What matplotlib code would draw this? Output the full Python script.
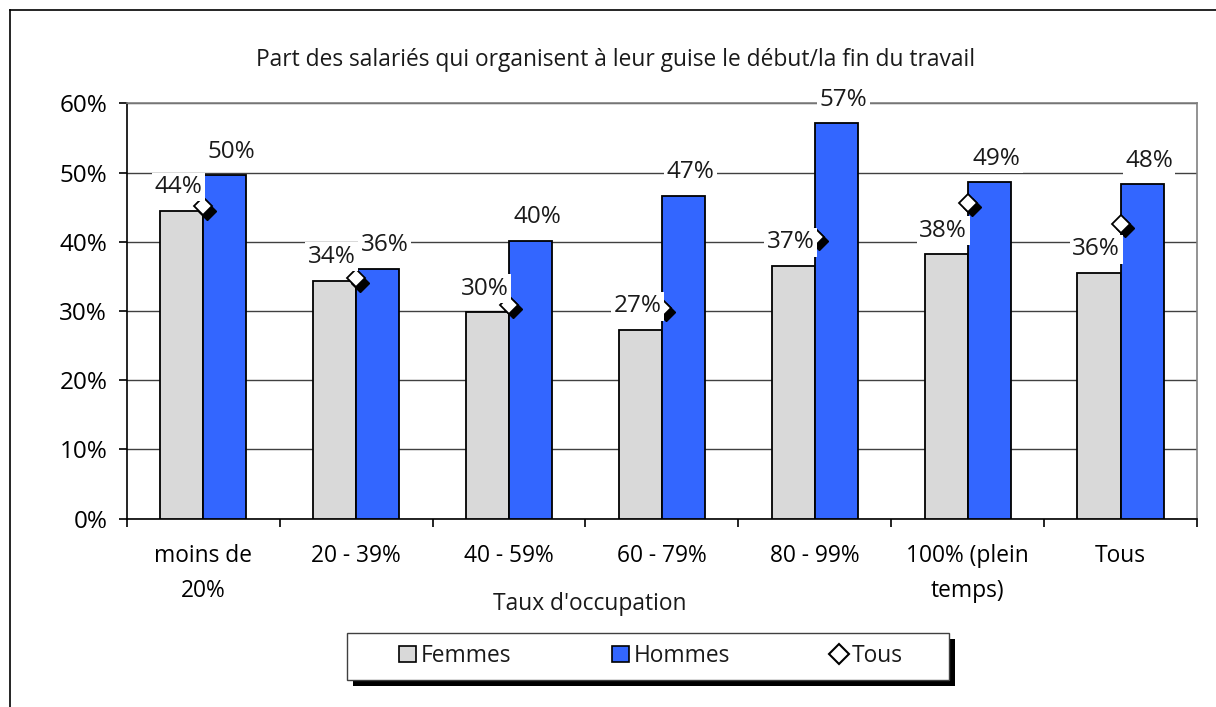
import matplotlib.pyplot as plt
import numpy as np
from matplotlib import transforms
from matplotlib.patches import Rectangle, Patch
from matplotlib.lines import Line2D

# categories and values (percent)
categories = ["moins de\n20%", "20 - 39%", "40 - 59%", "60 - 79%",
              "80 - 99%", "100% (plein\ntemps)", "Tous"]
femmes = [44.5, 34.4, 29.8, 27.3, 36.5, 38.2, 35.5]
hommes = [49.6, 36.1, 40.1, 46.6, 57.1, 48.6, 48.3]
tous = [45.1, 34.7, 30.9, 30.4, 40.7, 45.6, 42.6]
femmes_labels = ["44%", "34%", "30%", "27%", "37%", "38%", "36%"]
hommes_labels = ["50%", "36%", "40%", "47%", "57%", "49%", "48%"]

plt.rcParams['font.family'] = ['Open Sans', 'DejaVu Sans']
plt.rcParams['text.color'] = '#1a1a1a'

TXT = 16.4   # size for words
NUM = 17.5   # size for percentages

W, H = 1216, 707
fig = plt.figure(figsize=(W / 100, H / 100), dpi=100)
fig.patch.set_facecolor('white')

# outer chart frame (top and left edges only visible)
fig.add_artist(Line2D([10 / W, 10 / W], [1 - 10 / H, -0.1], color='black', lw=1.2))
fig.add_artist(Line2D([10 / W, 1.1], [1 - 10 / H, 1 - 10 / H], color='black', lw=1.2))

ax = fig.add_axes([126.7 / W, 1 - 518.7 / H, (1197 - 126.7) / W, (518.7 - 103.3) / H])

x = np.arange(len(categories))
w = 0.282

ax.bar(x - w / 2, femmes, w, color='#d9d9d9', edgecolor='black', linewidth=1.3, zorder=3)
ax.bar(x + w / 2, hommes, w, color='#3366ff', edgecolor='black', linewidth=1.3, zorder=3)

# Tous markers with a dark drop shadow
shadow = transforms.offset_copy(ax.transData, fig=fig, x=3, y=-3, units='points')
ax.plot(x, tous, linestyle='none', marker='D', markersize=9, color='black',
        transform=shadow, zorder=4)
ax.plot(x, tous, linestyle='none', marker='D', markersize=9, markerfacecolor='white',
        markeredgecolor='black', markeredgewidth=1.3, zorder=5)

# data labels
for i in range(len(categories)):
    ax.annotate(femmes_labels[i], (x[i] - w / 2, femmes[i]), xytext=(-2, 17),
                textcoords='offset points', ha='center', va='center', fontsize=NUM,
                bbox=dict(boxstyle='square,pad=0.1', fc='white', ec='none'), zorder=6,
                annotation_clip=False)
    ax.annotate(hommes_labels[i], (x[i] + w / 2, hommes[i]), xytext=(5, 17),
                textcoords='offset points', ha='center', va='center', fontsize=NUM,
                bbox=dict(boxstyle='square,pad=0.1', fc='white', ec='none'), zorder=6,
                annotation_clip=False)

ax.set_xlim(-0.5, len(categories) - 0.5)
ax.set_ylim(0, 60)
ax.set_yticks(np.arange(0, 61, 10))
ax.set_yticklabels([f"{v}%" for v in range(0, 61, 10)], fontsize=NUM)
ax.yaxis.grid(True, color='#404040', linewidth=1)
ax.set_axisbelow(True)

# ticks between categories, labels at centres
ax.set_xticks(np.arange(-0.5, len(categories), 1))
ax.set_xticklabels([])
ax.set_xticks(x, minor=True)
ax.set_xticklabels(categories, minor=True, fontsize=TXT, linespacing=1.65)
ax.tick_params(axis='x', which='minor', length=0, pad=18)
ax.tick_params(axis='x', which='major', length=6, width=1.2, direction='out')
ax.tick_params(axis='y', length=6, width=1.2, direction='out', pad=8)

for s in ['top', 'right']:
    ax.spines[s].set_color('#808080')
    ax.spines[s].set_linewidth(1.2)
for s in ['left', 'bottom']:
    ax.spines[s].set_color('black')
    ax.spines[s].set_linewidth(1.2)

fig.text(616 / W, 1 - 60 / H, "Part des salariés qui organisent à leur guise le début/la fin du travail",
         ha='center', va='center', fontsize=TXT)
fig.text(590 / W, 1 - 604 / H, "Taux d'occupation", ha='center', va='center', fontsize=TXT)

# legend box with a solid black shadow
lx0, ly0, lx1, ly1 = 347, 633, 949, 680
fig.add_artist(Rectangle(((lx0 + 6) / W, 1 - (ly1 + 6) / H), (lx1 - lx0) / W, (ly1 - ly0) / H,
                         transform=fig.transFigure, fc='black', ec='none'))
fig.add_artist(Rectangle((lx0 / W, 1 - ly1 / H), (lx1 - lx0) / W, (ly1 - ly0) / H,
                         transform=fig.transFigure, fc='white', ec='#404040', lw=1))
handles = [Patch(fc='#d9d9d9', ec='black', lw=1.2),
           Patch(fc='#3366ff', ec='black', lw=1.2),
           Line2D([], [], linestyle='none', marker='D', markersize=10,
                  markerfacecolor='white', markeredgecolor='black', markeredgewidth=1.5)]
fig.legend(handles, ["Femmes", "Hommes", "Tous"], ncol=3, frameon=False,
           loc='center', bbox_to_anchor=(651 / W, 1 - 656 / H),
           fontsize=TXT, handlelength=0.75, handleheight=0.75, handletextpad=0.2,
           columnspacing=4.4, borderpad=0, borderaxespad=0)

fig.savefig("out.png", dpi=100)
